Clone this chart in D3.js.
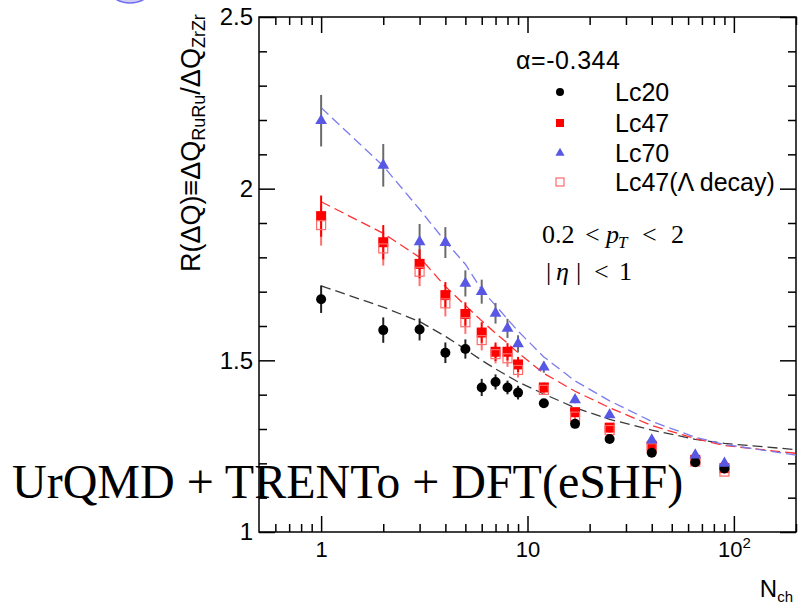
<!DOCTYPE html>
<html>
<head>
<meta charset="utf-8">
<script src="https://cdn.jsdelivr.net/npm/d3@7"></script>
<style>
  html, body { margin: 0; padding: 0; background: #fff; }
  svg { display: block; }
  .sans { font-family: "Liberation Sans", Arial, Helvetica, sans-serif; }
  .serif { font-family: "Liberation Serif", "Times New Roman", serif; }
</style>
</head>
<body>
<svg id="chart" width="798" height="606"></svg>
<script>
// Multiplicity bins (N_ch)
const nch = [1, 2, 3, 4, 5, 6, 7, 8, 9, 12, 17, 25, 40, 65, 90];

// R(ΔQ) per configuration
const lc20 = [1.678, 1.588, 1.590, 1.522, 1.533, 1.421, 1.437, 1.421, 1.406, 1.375, 1.315, 1.271, 1.231, 1.203, 1.185];
const lc20Err = [0.040, 0.037, 0.032, 0.030, 0.028, 0.025, 0.022, 0.020, 0.020, 0.012, 0.010, 0.008, 0.006, 0.005, 0.005];

const lc47 = [1.920, 1.844, 1.781, 1.690, 1.635, 1.581, 1.525, 1.525, 1.488, 1.421, 1.349, 1.304, 1.251, 1.210, 1.186];
const lc47Err = [0.060, 0.050, 0.042, 0.038, 0.034, 0.030, 0.027, 0.025, 0.022, 0.014, 0.010, 0.008, 0.006, 0.005, 0.005];

const lc70 = [2.198, 2.068, 1.845, 1.843, 1.724, 1.700, 1.637, 1.593, 1.548, 1.480, 1.385, 1.341, 1.268, 1.224, 1.200];
const lc70Err = [0.075, 0.062, 0.052, 0.045, 0.038, 0.035, 0.030, 0.028, 0.025, 0.016, 0.010, 0.008, 0.006, 0.005, 0.005];

const lc47Lambda = [1.894, 1.826, 1.758, 1.666, 1.611, 1.559, 1.518, 1.506, 1.472, 1.414, 1.336, 1.297, 1.244, 1.205, 1.176];
const lc47LambdaErr = [0.060, 0.050, 0.042, 0.038, 0.034, 0.030, 0.027, 0.025, 0.022, 0.014, 0.010, 0.008, 0.006, 0.005, 0.005];

// Model curves (dashed)
const curveX = [1, 2, 3, 4, 5, 6, 7, 8, 9, 12, 17, 25, 40, 65, 90, 200];
const curve20 = [1.717, 1.655, 1.613, 1.570, 1.532, 1.500, 1.475, 1.455, 1.437, 1.402, 1.362, 1.328, 1.297, 1.270, 1.258, 1.240];
const curve47 = [1.962, 1.870, 1.800, 1.715, 1.660, 1.615, 1.579, 1.550, 1.522, 1.462, 1.410, 1.362, 1.310, 1.272, 1.252, 1.229];
const curve70 = [2.236, 2.066, 1.940, 1.846, 1.780, 1.705, 1.660, 1.620, 1.585, 1.510, 1.440, 1.382, 1.322, 1.276, 1.255, 1.224];

// Axis ticks
const yMajor = [1, 1.5, 2, 2.5];
const yMinor = d3.range(1.1, 2.5, 0.1).filter(v => Math.abs((v * 2) - Math.round(v * 2)) > 1e-6);
const xMajor = [1, 10, 100];
const xMinor = [0.6, 0.7, 0.8, 0.9, 2, 3, 4, 5, 6, 7, 8, 9, 20, 30, 40, 50, 60, 70, 80, 90, 200];

const svg = d3.select("#chart");

const x = d3.scaleLog().domain([0.5, 200]).range([259, 796]);
const y = d3.scaleLinear().domain([1, 2.5]).range([532, 17]);

const BLACK = "#000";
const RED = "#ff0000";
const BLUE = "#5858e4";

// Partial highlight ellipse at the top edge
svg.append("ellipse")
  .attr("cx", 130).attr("cy", -30).attr("rx", 30).attr("ry", 33)
  .attr("fill", "#d2cbf5").attr("stroke", "#6f6ff0").attr("stroke-width", 1.5);

// Frame
const x0 = x.range()[0], x1 = x.range()[1], y0 = y.range()[0], y1 = y.range()[1];
svg.append("rect")
  .attr("x", x0).attr("y", y1).attr("width", x1 - x0).attr("height", y0 - y1)
  .attr("fill", "none").attr("stroke", "#000").attr("stroke-width", 1.5);

function tickAxis(axis, tx, ty) {
  const g = svg.append("g").attr("transform", `translate(${tx},${ty})`).call(axis);
  g.select(".domain").remove();
  g.selectAll(".tick line").attr("stroke", "#000").attr("stroke-width", 1.5);
  return g;
}

// Left axis with labels
const gl = tickAxis(d3.axisLeft(y).tickValues(yMajor).tickSize(-16)
  .tickFormat(d => d === 1 || d === 2 ? d3.format("d")(d) : d3.format(".1f")(d)), x0, 0);
gl.selectAll(".tick text").attr("class", "sans").attr("font-size", 24).attr("fill", "#000")
  .attr("text-anchor", "end").attr("x", -6);
tickAxis(d3.axisLeft(y).tickValues(yMinor).tickSize(-8).tickFormat(""), x0, 0);
// Right axis (ticks only)
tickAxis(d3.axisRight(y).tickValues(yMajor).tickSize(-16).tickFormat(""), x1, 0);
tickAxis(d3.axisRight(y).tickValues(yMinor).tickSize(-8).tickFormat(""), x1, 0);

// Bottom axis with labels
const gb = tickAxis(d3.axisBottom(x).tickValues(xMajor).tickSize(-16).tickFormat(""), 0, y0);
gb.selectAll(".tick").each(function(d) {
  const t = d3.select(this).append("text").attr("class", "sans")
    .attr("font-size", 22).attr("fill", "#000").attr("text-anchor", "middle").attr("y", 25);
  if (d === 100) {
    t.append("tspan").text("10");
    t.append("tspan").attr("font-size", 15).attr("dy", -9).text("2");
  } else {
    t.text(d3.format("d")(d));
  }
});
tickAxis(d3.axisBottom(x).tickValues(xMinor).tickSize(-8).tickFormat(""), 0, y0);
// Top axis (ticks only)
tickAxis(d3.axisTop(x).tickValues(xMajor).tickSize(-16).tickFormat(""), 0, y1);
tickAxis(d3.axisTop(x).tickValues(xMinor).tickSize(-8).tickFormat(""), 0, y1);

// Axis titles
const xt = svg.append("text").attr("class", "sans").attr("x", 793).attr("y", 597)
  .attr("text-anchor", "end").attr("fill", "#000").attr("font-size", 24);
xt.append("tspan").text("N");
xt.append("tspan").attr("font-size", 15).attr("dy", 5).text("ch");

const yt = svg.append("text").attr("class", "sans")
  .attr("transform", "translate(200,272) rotate(-90)")
  .attr("fill", "#000").attr("font-size", 27);
yt.append("tspan").text("R(ΔQ)≡ΔQ");
yt.append("tspan").attr("font-size", 18).attr("dy", 5).text("RuRu");
yt.append("tspan").attr("dy", -5).text("/ΔQ");
yt.append("tspan").attr("font-size", 18).attr("dy", 5).text("ZrZr");

// Dashed model curves
const line = d3.line().x(d => x(d[0])).y(d => y(d[1]));
const curves = [
  { v: curve20, c: "#3a3a3a" },
  { v: curve47, c: "#ff3030" },
  { v: curve70, c: "#7b7bee" }
];
curves.forEach(cv => {
  svg.append("path")
    .datum(curveX.map((xv, i) => [xv, cv.v[i]]))
    .attr("d", line).attr("fill", "none")
    .attr("stroke", cv.c).attr("stroke-width", 1.3)
    .attr("stroke-dasharray", "10,5");
});

// Error bars
function errBars(vals, errs, color) {
  svg.append("g").selectAll("line").data(nch).join("line")
    .attr("x1", d => x(d)).attr("x2", d => x(d))
    .attr("y1", (d, i) => y(vals[i] - errs[i]))
    .attr("y2", (d, i) => y(vals[i] + errs[i]))
    .attr("stroke", color).attr("stroke-width", 2);
}
errBars(lc20, lc20Err, "#222");
errBars(lc70, lc70Err, "#6b6b6b");
errBars(lc47Lambda, lc47LambdaErr, "#ff7070");
errBars(lc47, lc47Err, RED);

// Markers
const sq = 10;
svg.append("g").selectAll("rect").data(nch).join("rect")
  .attr("x", d => x(d) - sq / 2).attr("y", (d, i) => y(lc47[i]) - sq / 2)
  .attr("width", sq).attr("height", sq).attr("fill", RED);
svg.append("g").selectAll("rect").data(nch).join("rect")
  .attr("x", d => x(d) - 4.5).attr("y", (d, i) => y(lc47Lambda[i]) - 4.5)
  .attr("width", 9).attr("height", 9).attr("fill", "none")
  .attr("stroke", "#ff6a6a").attr("stroke-width", 1.2);
svg.append("g").selectAll("circle").data(nch).join("circle")
  .attr("cx", d => x(d)).attr("cy", (d, i) => y(lc20[i])).attr("r", 5).attr("fill", BLACK);
const tri = d3.symbol().type(d3.symbolTriangle).size(60);
svg.append("g").selectAll("path").data(nch).join("path")
  .attr("d", tri)
  .attr("transform", (d, i) => `translate(${x(d)},${y(lc70[i])})`)
  .attr("fill", BLUE);

// Legend
const legX = 560, legTX = 615;
svg.append("text").attr("class", "sans").attr("x", 516).attr("y", 69)
  .attr("font-size", 25).attr("textLength", 104).attr("lengthAdjust", "spacing")
  .attr("fill", "#000").text("α=-0.344");
const legend = [
  { label: "Lc20", y: 92, kind: "dot" },
  { label: "Lc47", y: 123, kind: "sq" },
  { label: "Lc70", y: 153, kind: "tri" },
  { label: "Lc47(Λ decay)", y: 182, kind: "open" }
];
legend.forEach(l => {
  if (l.kind === "dot") svg.append("circle").attr("cx", legX).attr("cy", l.y).attr("r", 4).attr("fill", BLACK);
  if (l.kind === "sq") svg.append("rect").attr("x", legX - 4).attr("y", l.y - 4).attr("width", 8).attr("height", 8).attr("fill", RED);
  if (l.kind === "tri") svg.append("path").attr("d", d3.symbol().type(d3.symbolTriangle).size(36)).attr("transform", `translate(${legX},${l.y})`).attr("fill", BLUE);
  if (l.kind === "open") svg.append("rect").attr("x", legX - 4).attr("y", l.y - 4).attr("width", 8).attr("height", 8).attr("fill", "none").attr("stroke", "#ff6a6a").attr("stroke-width", 1.2);
  svg.append("text").attr("class", "sans").attr("x", legTX).attr("y", l.y + 9)
    .attr("font-size", 25).attr("fill", "#000").text(l.label);
});

// Kinematic cuts
const cut = (txt, px, py, opts = {}) => {
  const t = svg.append("text").attr("class", "serif").attr("x", px).attr("y", py)
    .attr("font-size", opts.size || 26).attr("fill", "#000").text(txt);
  if (opts.italic) t.attr("font-style", "italic");
  return t;
};
cut("0.2", 542, 243);
cut("<", 585, 243);
cut("p", 606, 243, { italic: true });
cut("T", 618, 248, { italic: true, size: 17 });
cut("<", 642, 243);
cut("2", 671, 243);
cut("|", 546, 280);
cut("η", 556, 280, { italic: true });
cut("|", 576, 280);
cut("<", 594, 280);
cut("1", 619, 280);

// Model label
svg.append("text").attr("class", "serif").attr("x", 12).attr("y", 498)
  .attr("font-size", 48).attr("fill", "#000").text("UrQMD + TRENTo + DFT(eSHF)");
</script>
</body>
</html>
